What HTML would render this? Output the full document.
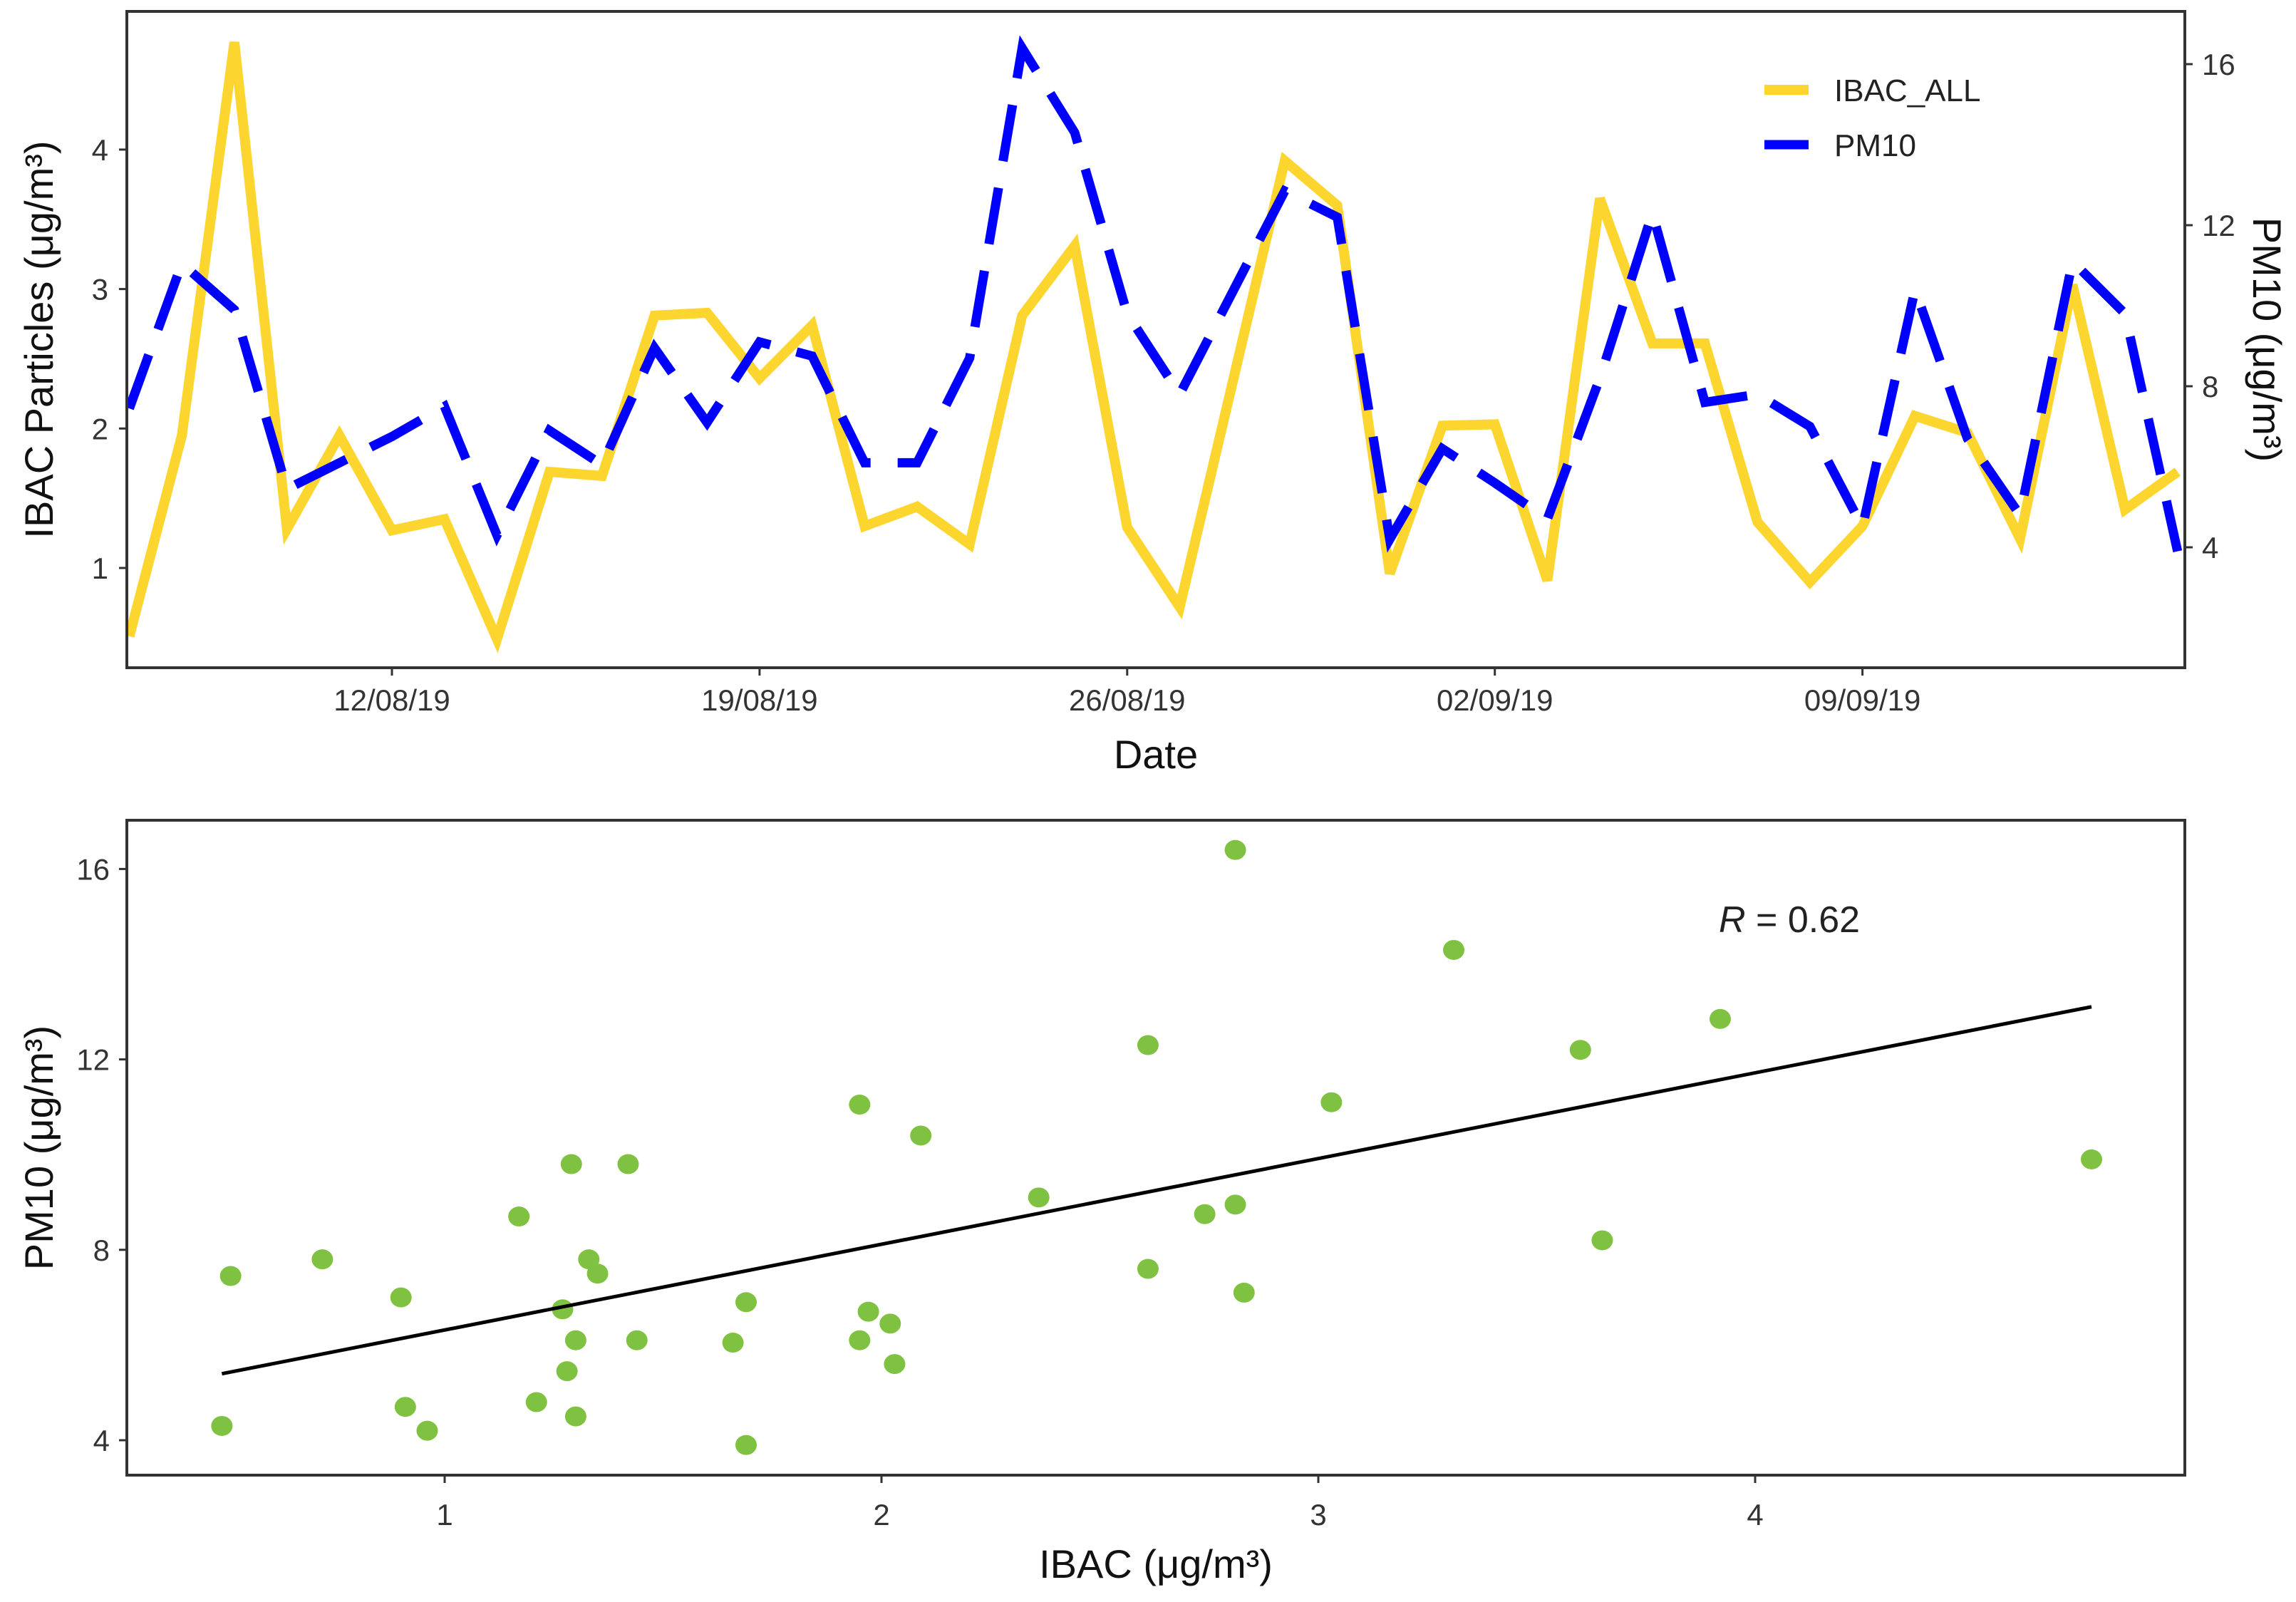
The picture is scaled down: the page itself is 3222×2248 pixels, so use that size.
<!DOCTYPE html>
<html><head><meta charset="utf-8">
<style>
html,body{margin:0;padding:0;background:#fff;}
svg{display:block;font-family:"Liberation Sans",Arial,sans-serif;}
</style></head>
<body>
<svg id="chart" width="3222" height="2248" viewBox="0 0 3222 2248" xmlns="http://www.w3.org/2000/svg">
  <rect x="0" y="0" width="3222" height="2248" fill="#fff"/>
  <g id="topPanel"></g>
  <g id="botPanel"></g>
</svg>
<script>
// ---- data ----
const dayOffsets = [0,1,2,3,4,5,6,7,8,9,10,11,12,13,14,15,16,17,18,19,20,22,23,24,25,26,27,28,29,30,31,32,33,34,35,36,37,38,39]; // days since 07/08/19
const ibacValues = [0.51,1.95,4.77,1.28,1.95,1.27,1.35,0.49,1.69,1.66,2.81,2.83,2.36,2.74,1.30,1.44,1.17,2.81,3.31,1.29,0.72,3.92,3.60,0.96,2.02,2.03,0.91,3.65,2.61,2.61,1.33,0.90,1.30,2.09,1.97,1.21,3.03,1.42,1.69];
const pm10Values = [7.45,11.05,9.9,5.45,6.1,6.75,7.5,4.3,6.9,6.05,8.95,7.1,9.1,8.75,6.1,6.1,8.7,16.4,14.3,9.8,7.8,12.85,12.2,4.2,6.45,5.6,4.7,8.2,12.3,7.6,7.8,7.0,4.5,10.4,6.7,4.8,11.1,9.8,3.9];
const dateTickDays = [5,12,19,26,33];
const dateTickLabels = ["12/08/19","19/08/19","26/08/19","02/09/19","09/09/19"];
const ibacTicks = [1,2,3,4];
const pmTicks = [4,8,12,16];
const scatterXTicks = [1,2,3,4];
const rLabel = "0.62";

(function(){
const NS="http://www.w3.org/2000/svg";
function mk(parent,tag,attrs,text){const e=document.createElementNS(NS,tag);for(const k in attrs)e.setAttribute(k,attrs[k]);if(text!==undefined)e.textContent=text;parent.appendChild(e);return e;}

const T={l:178,r:3066,t:16,b:937};
const xDay=d=>181.5+d*73.7;
const yIbac=v=>797-(v-1)*195.7;
const yPm=v=>768-(v-4)*56.5;
const topG=document.getElementById('topPanel');

let yp=dayOffsets.map((d,i)=>xDay(d).toFixed(1)+","+yIbac(ibacValues[i]).toFixed(1)).join(" ");
let bp=dayOffsets.map((d,i)=>xDay(d).toFixed(1)+","+yPm(pm10Values[i]).toFixed(1)).join(" ");
const defs=mk(topG,'defs',{});
const cp=mk(defs,'clipPath',{id:'clipTop'});
mk(cp,'rect',{x:T.l,y:T.t,width:T.r-T.l,height:T.b-T.t});
const g=mk(topG,'g',{'clip-path':'url(#clipTop)'});
let l1=mk(g,'polyline',{points:yp,fill:'none',stroke:'#FDD52F','stroke-width':14,'stroke-linejoin':'miter'});


let l2=mk(g,'polyline',{points:bp,fill:'none',stroke:'#0000FF','stroke-width':13,'stroke-dasharray':'80 38','stroke-linejoin':'miter'});


let fr=mk(topG,'rect',{x:T.l,y:T.t,width:T.r-T.l,height:T.b-T.t,fill:'none',stroke:'#333','stroke-width':4});


ibacTicks.forEach(v=>{const y=yIbac(v);
  mk(topG,'line',{x1:T.l-11,x2:T.l,y1:y,y2:y,stroke:'#333','stroke-width':3});
  let t=mk(topG,'text',{x:T.l-26,y:y+15,'text-anchor':'end','font-size':42,fill:'#333'},String(v));
  
  });
pmTicks.forEach(v=>{const y=yPm(v);
  mk(topG,'line',{x1:T.r,x2:T.r+11,y1:y,y2:y,stroke:'#333','stroke-width':3});
  let t=mk(topG,'text',{x:T.r+24,y:y+15,'text-anchor':'start','font-size':42,fill:'#333'},String(v));
  
  });
dateTickDays.forEach((d,i)=>{const x=xDay(d);
  mk(topG,'line',{x1:x,x2:x,y1:T.b,y2:T.b+11,stroke:'#333','stroke-width':3});
  let t=mk(topG,'text',{x:x,y:T.b+60,'text-anchor':'middle','font-size':42,fill:'#333'},dateTickLabels[i]);
  
  });
let tt=mk(topG,'text',{x:(T.l+T.r)/2,y:1078,'text-anchor':'middle','font-size':56,fill:'#111'},'Date');


let yt=mk(topG,'text',{x:0,y:0,transform:'translate(74,'+((T.t+T.b)/2)+') rotate(-90)','text-anchor':'middle','font-size':56,fill:'#111'},'IBAC Particles (μg/m³)');


let yt2=mk(topG,'text',{x:0,y:0,transform:'translate(3162,'+((T.t+T.b)/2)+') rotate(90)','text-anchor':'middle','font-size':56,fill:'#111'},'PM10 (μg/m³)');


let lg=mk(topG,'g',{});


mk(lg,'line',{x1:2476,x2:2538,y1:126,y2:126,stroke:'#FDD52F','stroke-width':14});
let le1=mk(lg,'text',{x:2574,y:142,'font-size':44,fill:'#222'},'IBAC_ALL');


mk(lg,'line',{x1:2476,x2:2538,y1:203,y2:203,stroke:'#0000FF','stroke-width':13});
let le2=mk(lg,'text',{x:2574,y:219,'font-size':44,fill:'#222'},'PM10');



const B={l:178,r:3066,t:1151,b:2070};
const sx=v=>624+(v-1)*613;
const sy=v=>2021-(v-4)*66.8;
const botG=document.getElementById('botPanel');
let bf=mk(botG,'rect',{x:B.l,y:B.t,width:B.r-B.l,height:B.b-B.t,fill:'none',stroke:'#333','stroke-width':4});


ibacValues.forEach((v,i)=>{
  let c=mk(botG,'ellipse',{cx:sx(v),cy:sy(pm10Values[i]),rx:15,ry:14,fill:'#7FC241'});
  
  
});
const n=ibacValues.length;
const mx=ibacValues.reduce((a,b)=>a+b,0)/n, my=pm10Values.reduce((a,b)=>a+b,0)/n;
let sxy=0,sxx=0;ibacValues.forEach((v,i)=>{sxy+=(v-mx)*(pm10Values[i]-my);sxx+=(v-mx)*(v-mx);});
const slope=sxy/sxx, icpt=my-slope*mx;
const xmin=Math.min(...ibacValues), xmax=Math.max(...ibacValues);
let rl=mk(botG,'line',{x1:sx(xmin),y1:sy(icpt+slope*xmin),x2:sx(xmax),y2:sy(icpt+slope*xmax),stroke:'#000','stroke-width':5});


pmTicks.forEach(v=>{const y=sy(v);
  mk(botG,'line',{x1:B.l-11,x2:B.l,y1:y,y2:y,stroke:'#333','stroke-width':3});
  let t=mk(botG,'text',{x:B.l-24,y:y+15,'text-anchor':'end','font-size':42,fill:'#333'},String(v));
  
  });
scatterXTicks.forEach(v=>{const x=sx(v);
  mk(botG,'line',{x1:x,x2:x,y1:B.b,y2:B.b+11,stroke:'#333','stroke-width':3});
  let t=mk(botG,'text',{x:x,y:B.b+70,'text-anchor':'middle','font-size':42,fill:'#333'},String(v));
  
  });
let bx=mk(botG,'text',{x:(B.l+B.r)/2,y:2214,'text-anchor':'middle','font-size':56,fill:'#111'},'IBAC (μg/m³)');


let by=mk(botG,'text',{x:0,y:0,transform:'translate(74,'+((B.t+B.b)/2)+') rotate(-90)','text-anchor':'middle','font-size':56,fill:'#111'},'PM10 (μg/m³)');


let rt=mk(botG,'text',{x:2412,y:1308,'font-size':52,fill:'#222'});


mk(rt,'tspan',{'font-style':'italic'},'R');
mk(rt,'tspan',{},' = '+rLabel);
})();
</script>
</body></html>
